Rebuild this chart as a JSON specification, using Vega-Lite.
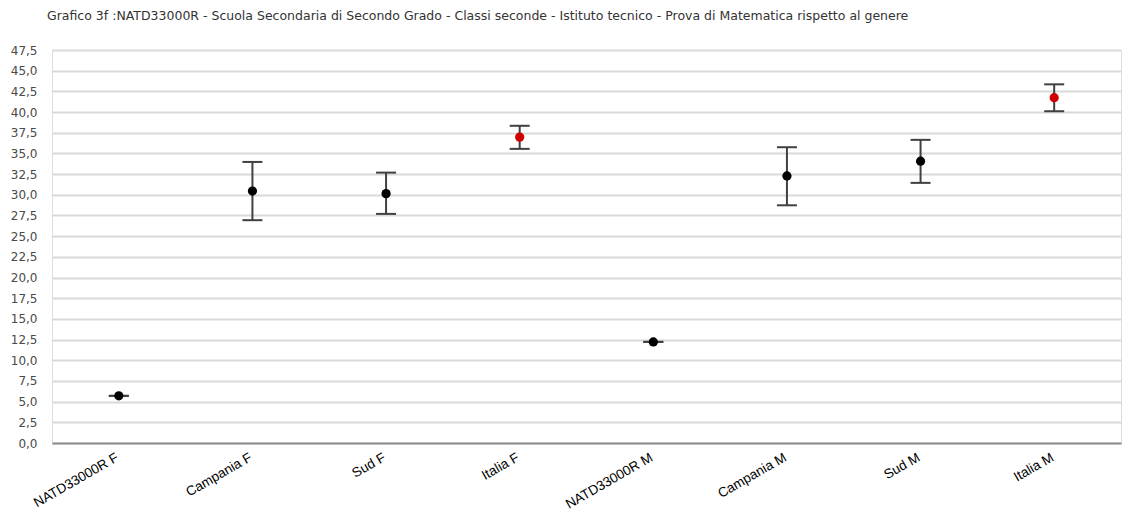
{
  "$schema": "https://vega.github.io/schema/vega-lite/v6.json",
  "autosize": {"type": "none"},
  "width": 1069,
  "height": 393,
  "padding": {"left": 52, "top": 50, "right": 6, "bottom": 77},
  "background": "white",
  "title": {
    "text": "Grafico 3f :NATD33000R - Scuola Secondaria di Secondo Grado - Classi seconde - Istituto tecnico - Prova di Matematica rispetto al genere",
    "anchor": "start",
    "frame": "group",
    "dx": -5,
    "offset": 22,
    "font": "DejaVu Sans",
    "fontSize": 12.5,
    "fontWeight": "normal",
    "color": "#333333"
  },
  "data": {
    "values": [
      {"categoria": "NATD33000R F", "livello": "Scuola", "media": 5.7, "inf": 5.7, "sup": 5.7},
      {"categoria": "Campania F", "livello": "Campania", "media": 30.45, "inf": 26.93, "sup": 33.97},
      {"categoria": "Sud F", "livello": "Sud", "media": 30.14, "inf": 27.69, "sup": 32.68},
      {"categoria": "Italia F", "livello": "Italia", "media": 36.97, "inf": 35.55, "sup": 38.34},
      {"categoria": "NATD33000R M", "livello": "Scuola", "media": 12.22, "inf": 12.22, "sup": 12.22},
      {"categoria": "Campania M", "livello": "Campania", "media": 32.28, "inf": 28.73, "sup": 35.75},
      {"categoria": "Sud M", "livello": "Sud", "media": 34.06, "inf": 31.44, "sup": 36.64},
      {"categoria": "Italia M", "livello": "Italia", "media": 41.74, "inf": 40.1, "sup": 43.35}
    ]
  },
  "config": {
    "axisY": {
      "labelFont": "DejaVu Sans",
      "labelFontSize": 12,
      "labelColor": "#4a4a4a",
      "labelPadding": 15,
      "labelOverlap": false,
      "ticks": false,
      "domain": false,
      "grid": true,
      "gridColor": "#d9d9d9",
      "gridWidth": 2
    }
  },
  "encoding": {
    "x": {
      "field": "categoria",
      "type": "nominal",
      "sort": null,
      "scale": {"type": "band", "paddingInner": 0, "paddingOuter": 0},
      "axis": {
        "title": null,
        "labelAngle": -30,
        "labelAlign": "right",
        "labelBaseline": "top",
        "labelPadding": 7,
        "labelOffset": -5,
        "labelFont": "Liberation Sans",
        "labelFontSize": 13.5,
        "labelColor": "#000000",
        "ticks": false,
        "domain": true,
        "domainColor": "#8c8c8c",
        "domainWidth": 2,
        "grid": false
      }
    }
  },
  "layer": [
    {
      "mark": {"type": "rule", "color": "#404040", "strokeWidth": 2},
      "encoding": {
        "y": {
          "field": "inf",
          "type": "quantitative",
          "scale": {"domain": [0, 47.5], "nice": false, "zero": true},
          "axis": {
            "title": null,
            "values": [0, 2.5, 5, 7.5, 10, 12.5, 15, 17.5, 20, 22.5, 25, 27.5, 30, 32.5, 35, 37.5, 40, 42.5, 45, 47.5],
            "labelExpr": "replace(format(datum.value, '.1f'), '.', ',')"
          }
        },
        "y2": {"field": "sup"}
      }
    },
    {
      "mark": {"type": "tick", "color": "#404040", "thickness": 2, "size": 20, "opacity": 1},
      "encoding": {
        "y": {
          "field": "inf",
          "type": "quantitative",
          "axis": {
            "title": null,
            "values": [0, 2.5, 5, 7.5, 10, 12.5, 15, 17.5, 20, 22.5, 25, 27.5, 30, 32.5, 35, 37.5, 40, 42.5, 45, 47.5],
            "labelExpr": "replace(format(datum.value, '.1f'), '.', ',')"
          }
        }
      }
    },
    {
      "mark": {"type": "tick", "color": "#404040", "thickness": 2, "size": 20, "opacity": 1},
      "encoding": {
        "y": {
          "field": "sup",
          "type": "quantitative",
          "axis": {
            "title": null,
            "values": [0, 2.5, 5, 7.5, 10, 12.5, 15, 17.5, 20, 22.5, 25, 27.5, 30, 32.5, 35, 37.5, 40, 42.5, 45, 47.5],
            "labelExpr": "replace(format(datum.value, '.1f'), '.', ',')"
          }
        }
      }
    },
    {
      "mark": {"type": "point", "filled": true, "opacity": 1, "shape": "circle"},
      "encoding": {
        "y": {
          "field": "media",
          "type": "quantitative",
          "axis": {
            "title": null,
            "values": [0, 2.5, 5, 7.5, 10, 12.5, 15, 17.5, 20, 22.5, 25, 27.5, 30, 32.5, 35, 37.5, 40, 42.5, 45, 47.5],
            "labelExpr": "replace(format(datum.value, '.1f'), '.', ',')"
          }
        },
        "color": {
          "field": "livello",
          "type": "nominal",
          "scale": {"domain": ["Scuola", "Campania", "Sud", "Italia"], "range": ["#000000", "#000000", "#000000", "#d00000"]},
          "legend": null
        },
        "size": {
          "field": "livello",
          "type": "nominal",
          "scale": {"domain": ["Scuola", "Campania", "Sud", "Italia"], "range": [85, 85, 85, 45]},
          "legend": null
        }
      }
    }
  ]
}
